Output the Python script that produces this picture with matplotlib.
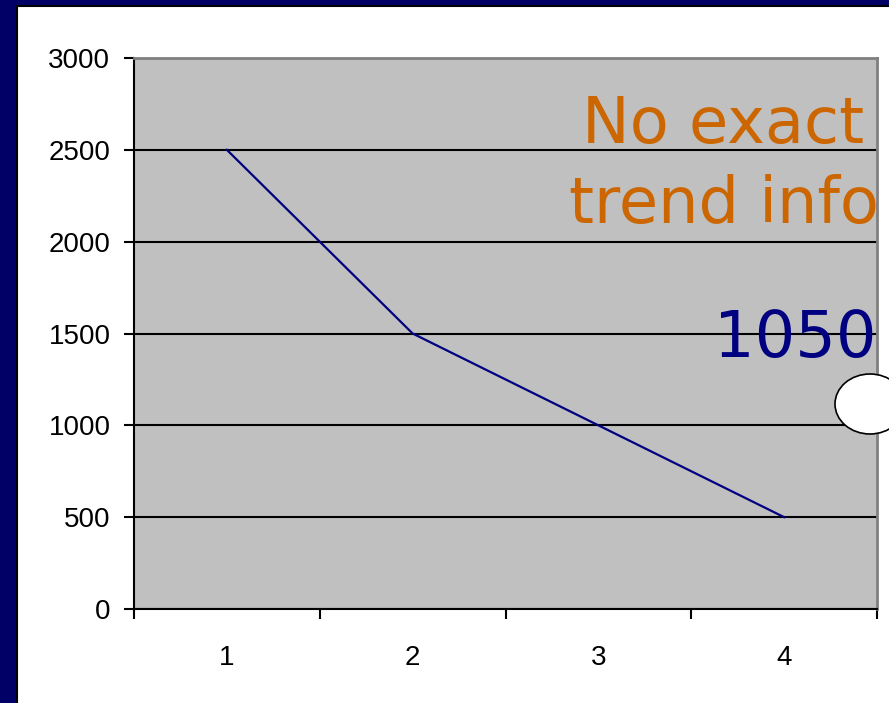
import numpy as np
import matplotlib.pyplot as plt
from matplotlib.patches import Rectangle, Ellipse

categories = [1, 2, 3, 4]
values = [2500, 1500, 1000, 500]
y_ticks = [0, 500, 1000, 1500, 2000, 2500, 3000]
note_top = "No exact"
note_bottom = "trend info"
callout = "1050"

fig = plt.figure(figsize=(8.89, 7.03), dpi=100)
fig.patch.set_facecolor('#000066')

# white slide panel behind the chart
fig.patches.append(Rectangle((17 / 889, -0.01), 1, 1.01 - 6 / 703, transform=fig.transFigure,
                             facecolor='white', edgecolor='black', linewidth=1.5, zorder=-5))

ax = fig.add_axes([134 / 889, 94 / 703, 743 / 889, 551 / 703])
ax.set_facecolor('#c0c0c0')
ax.plot(categories, values, color='#000080', linewidth=1.6, zorder=3)

ax.set_xlim(0.5, 4.5)
ax.set_ylim(0, 3000)
ax.set_yticks(y_ticks)
ax.set_xticks(np.arange(0.5, 5, 1))
ax.set_xticklabels([])
ax.set_xticks(categories, minor=True)
ax.set_xticklabels([str(c) for c in categories], minor=True)

ax.grid(axis='y', color='black', linewidth=1.5)
ax.set_axisbelow(True)
for s in ['top', 'right']:
    ax.spines[s].set_color('#808080')
    ax.spines[s].set_linewidth(2)
for s in ['left', 'bottom']:
    ax.spines[s].set_color('black')
    ax.spines[s].set_linewidth(1.5)

ax.tick_params(axis='y', direction='out', length=7, width=1.5, pad=10,
               labelsize=20, labelfontfamily='Liberation Sans')
ax.tick_params(axis='x', which='major', direction='out', length=7, width=1.5)
ax.tick_params(axis='x', which='minor', length=0, pad=26,
               labelsize=20, labelfontfamily='Liberation Sans')

ax.text(0.982, 0.845, note_top, transform=ax.transAxes, ha='right', va='baseline',
        fontsize=46, color='#cc6600', family='DejaVu Sans', clip_on=True)
ax.text(0.586, 0.70, note_bottom, transform=ax.transAxes, ha='left', va='baseline',
        fontsize=46, color='#cc6600', family='DejaVu Sans', clip_on=True)
ax.text(0.999, 0.458, callout, transform=ax.transAxes, ha='right', va='baseline',
        fontsize=46, color='#000080', family='DejaVu Sans', clip_on=True)

fig.patches.append(Ellipse((870 / 889, 1 - 404 / 703), 70 / 889, 60 / 703,
                           transform=fig.transFigure, facecolor='white',
                           edgecolor='black', linewidth=1.2, zorder=5))

fig.savefig('out.png', dpi=100, facecolor=fig.get_facecolor())
